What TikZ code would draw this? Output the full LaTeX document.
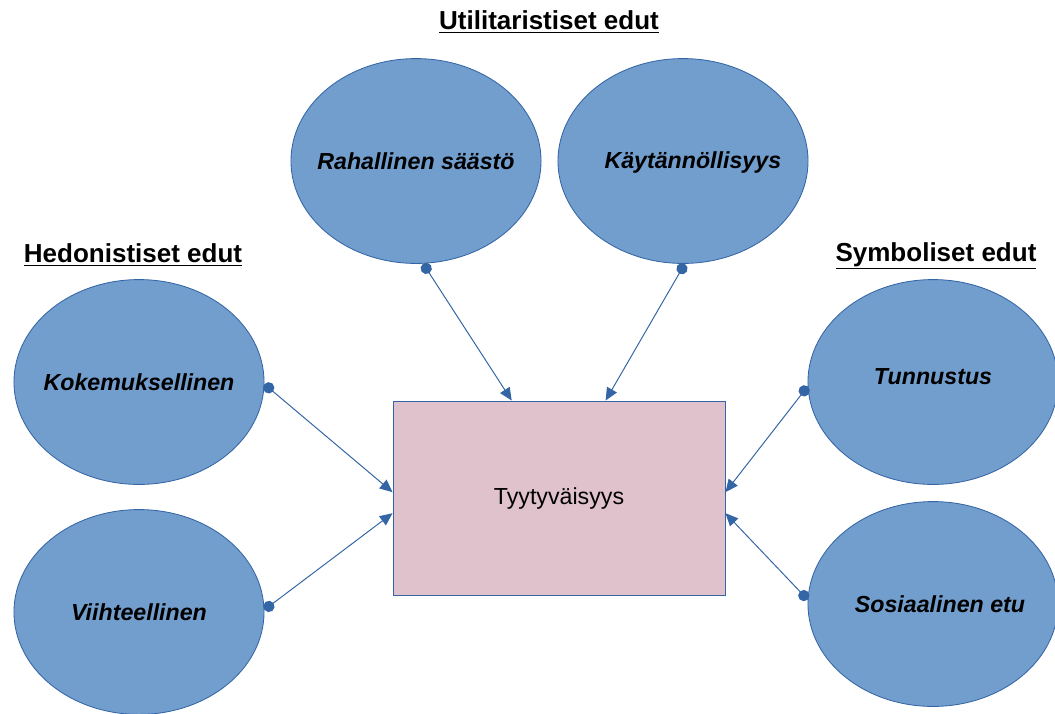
\documentclass[tikz,border=0pt]{standalone}
\usepackage{fontspec}
\setmainfont{Liberation Sans}
\usetikzlibrary{shapes.geometric, arrows.meta, positioning, calc}
\definecolor{ovalfill}{RGB}{114,158,206}
\definecolor{ovalline}{RGB}{52,101,164}
\definecolor{boxfill}{RGB}{224,194,204}
\tikzstyle{arrow} = [ovalline, line width=0.7pt, {Circle[length=8pt]}-{Triangle[length=9pt,width=8pt]}]

\begin{document}
\begin{tikzpicture}[
        x=0.025cm, y=-0.025cm,
        oval/.style={ellipse, draw=ovalline, fill=ovalfill, line width=0.6pt, minimum width=6.25cm, minimum height=5.12cm, inner sep=0pt},
        ovaltext/.style={font=\fontsize{16.5}{20}\selectfont\bfseries\itshape, inner sep=0pt},
        heading/.style={font=\fontsize{18.5}{22}\selectfont\bfseries, inner sep=0pt}
      ]
        \useasboundingbox (0,0) rectangle (1055,713);

        % Utilitaristiset edut
        \node (rahallinen) [oval, label={[ovaltext]center:Rahallinen säästö}] at (416,161) {};
        \node (kaytannollisyys) [oval, label={[ovaltext, xshift=7pt, yshift=-1pt]center:Käytännöllisyys}] at (683,161) {};

        % Hedonistiset edut
        \node (kokemuksellinen) [oval, label={[ovaltext]center:Kokemuksellinen}] at (139,382) {};
        \node (viihteellinen) [oval, label={[ovaltext]center:Viihteellinen}] at (139,612) {};

        % Symboliset edut
        \node (tunnustus) [oval, label={[ovaltext, yshift=4pt]center:Tunnustus}] at (933,382) {};
        \node (sosiaalinen) [oval, label={[ovaltext, xshift=5pt]center:Sosiaalinen etu}] at (933,604) {};

        \node (tyytyvaisyys) [rectangle, draw=ovalline, fill=boxfill, line width=0.6pt, minimum width=8.3cm, minimum height=4.85cm, font=\fontsize{16.5}{20}\selectfont] at (559,498) {Tyytyväisyys};

        % Arrows
        \draw [arrow] (rahallinen.-86) -- ($(tyytyvaisyys.north west)!0.358!(tyytyvaisyys.north east)$);
        \draw [arrow] (kaytannollisyys.-89) -- ($(tyytyvaisyys.north west)!0.64!(tyytyvaisyys.north east)$);
        \draw [arrow] (kokemuksellinen.-1) -- ($(tyytyvaisyys.north west)!0.47!(tyytyvaisyys.south west)$);
        \draw [arrow] (viihteellinen.1) -- ($(tyytyvaisyys.north west)!0.578!(tyytyvaisyys.south west)$);
        \draw [arrow] (tunnustus.182) -- ($(tyytyvaisyys.north east)!0.47!(tyytyvaisyys.south east)$);
        \draw [arrow] (sosiaalinen.178) -- ($(tyytyvaisyys.north east)!0.578!(tyytyvaisyys.south east)$);

        % Labels
        \node (utilitaristiset) [heading] at (549,22) {\underline{Utilitaristiset edut}};
        \node (hedonistiset) [heading] at (133,255) {\underline{Hedonistiset edut}};
        \node (symboliset) [heading] at (936,256) {\underline{Symboliset edut}};
      \end{tikzpicture}
\end{document}
